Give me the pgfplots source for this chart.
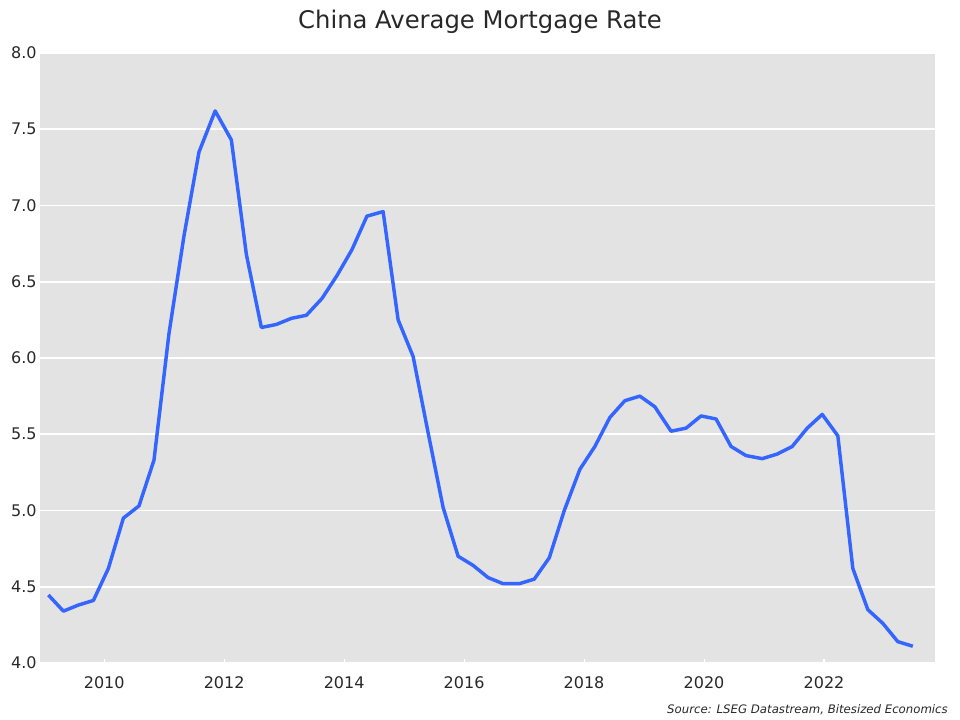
\documentclass[border=0pt]{standalone}
\usepackage{pgfplots}
\pgfplotsset{compat=1.18}
\usepackage{fontspec}
\setmainfont{DejaVu Sans}
\definecolor{bgc}{RGB}{227,227,227}
\definecolor{linec}{RGB}{52,102,255}
\definecolor{txt}{RGB}{40,40,40}
\begin{document}
\begin{tikzpicture}
\useasboundingbox (0pt,0pt) rectangle (720pt,540pt);
\begin{axis}[
  at={(30pt,42.75pt)}, anchor=south west,
  scale only axis, width=671.25pt, height=457.5pt,
  xmin=2008.93, xmax=2023.85, ymin=4, ymax=8,
  axis background/.style={fill=bgc},
  axis line style={draw=none},
  ytick={4,4.5,...,8.01},
  xtick={2010,2012,...,2022},
  yticklabel style={xshift=1pt, /pgf/number format/.cd,fixed,fixed zerofill,precision=1},
  xticklabel style={yshift=-7pt, /pgf/number format/.cd,1000 sep={}},
  /pgf/number format/assume math mode=true,
  ticklabel style={font=\fontsize{12}{14}\selectfont, text=txt},
  ymajorgrids, grid style={white, line width=1.2pt},
  ytick style={draw=none},
  xtick style={white, line width=0.8pt},
  major tick length=3pt,
  tick align=inside,
  xtick pos=bottom,
  clip=true,
]
\addplot[linec, line width=2.6pt, line join=round] coordinates {
(2009.07,4.446) (2009.32,4.34) (2009.57,4.38) (2009.82,4.41)
(2010.07,4.62) (2010.32,4.95) (2010.58,5.03) (2010.83,5.33)
(2011.08,6.16) (2011.33,6.80) (2011.58,7.35) (2011.85,7.62)
(2012.12,7.43) (2012.37,6.68) (2012.62,6.20) (2012.87,6.22)
(2013.12,6.26) (2013.37,6.28) (2013.63,6.39) (2013.88,6.54)
(2014.13,6.71) (2014.38,6.93) (2014.65,6.96) (2014.90,6.25)
(2015.15,6.01) (2015.40,5.51) (2015.65,5.02) (2015.90,4.70)
(2016.15,4.64) (2016.40,4.56) (2016.65,4.52) (2016.92,4.52)
(2017.17,4.55) (2017.42,4.69) (2017.67,5.00) (2017.93,5.27)
(2018.18,5.42) (2018.43,5.61) (2018.68,5.72) (2018.93,5.75)
(2019.18,5.68) (2019.45,5.52) (2019.70,5.54) (2019.95,5.62)
(2020.20,5.60) (2020.45,5.42) (2020.70,5.36) (2020.97,5.34)
(2021.22,5.37) (2021.47,5.42) (2021.72,5.54) (2021.97,5.63)
(2022.23,5.49) (2022.48,4.62) (2022.73,4.35) (2022.98,4.26)
(2023.23,4.14) (2023.48,4.11)
};
\end{axis}
\node[text=txt, font=\fontsize{18.2}{21}\selectfont, anchor=base] at (360pt,518.5pt) {China Average Mortgage Rate};
\node[text=txt, font=\fontsize{8.8}{10}\selectfont\itshape, anchor=base east, inner sep=0pt] at (711pt,5pt) {Source: LSEG Datastream, Bitesized Economics};
\end{tikzpicture}
\end{document}
